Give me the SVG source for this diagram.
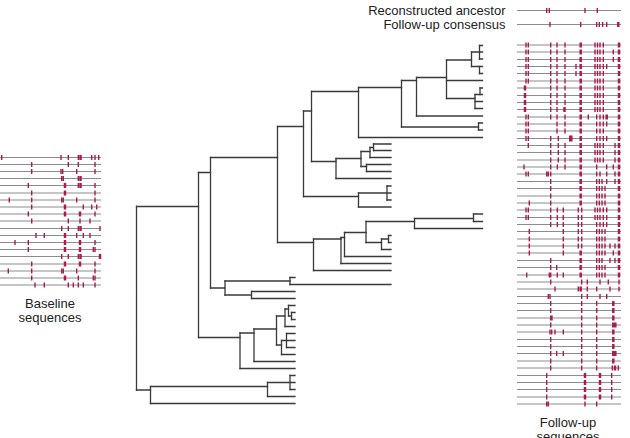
<svg xmlns="http://www.w3.org/2000/svg" width="630" height="438" viewBox="0 0 630 438">
<style>
.ln{stroke:#8c8c8c;stroke-width:1.1;fill:none}
.t{stroke:#ad1a4c;stroke-width:1.4;fill:none}
.T{stroke:#ad1a4c;stroke-width:2.5;fill:none}
.tree{stroke:#3a3a3a;stroke-width:1.3;fill:none;stroke-linecap:square}
text{font-family:"Liberation Sans",Arial,sans-serif;font-size:13px;fill:#222}
</style>
<rect width="630" height="438" fill="#fff"/>

<g id="legend">
<text x="505.5" y="14.5" text-anchor="end">Reconstructed ancestor</text>
<text x="505.5" y="28.5" text-anchor="end">Follow-up consensus</text>
<g transform="translate(0,10.5)"><path class="ln" d="M517 0H621"/><path class="t" d="M546.7 -2.5v5M549.3 -2.5v5M585 -2.5v5M597.3 -2.5v5"/></g>
<g transform="translate(0,24.5)"><path class="ln" d="M517 0H621"/><path class="t" d="M550 -2.5v5M580.7 -2.5v5M596.7 -2.5v5M599.3 -2.5v5M602.7 -2.5v5M606.7 -2.5v5"/><path class="T" d="M618.3 -2.5v5"/></g>
</g>

<g id="baseline-sequences">
<g transform="translate(0,157.5)"><path class="ln" d="M0 0H101"/><path class="t" d="M1.7 -2.5v5M61 -2.5v5M68.3 -2.5v5M78.3 -2.5v5M91.7 -2.5v5M95 -2.5v5M98.7 -2.5v5"/><path class="T" d="M80.5 -2.5v5"/></g>
<g transform="translate(0,164.5)"><path class="ln" d="M0 0H101"/><path class="t" d="M31.7 -2.5v5M68.3 -2.5v5M78.3 -2.5v5M95 -2.5v5"/></g>
<g transform="translate(0,171.5)"><path class="ln" d="M0 0H101"/><path class="t" d="M31.7 -2.5v5M61 -2.5v5M62.7 -2.5v5M76.7 -2.5v5M95 -2.5v5"/></g>
<g transform="translate(0,178.5)"><path class="ln" d="M0 0H101"/><path class="t" d="M61.7 -2.5v5M63.3 -2.5v5M78.3 -2.5v5"/><path class="T" d="M80.5 -2.5v5"/></g>
<g transform="translate(0,185.5)"><path class="ln" d="M0 0H101"/><path class="t" d="M28.3 -2.5v5M78.3 -2.5v5M95 -2.5v5"/><path class="T" d="M65 -2.5v5M80.5 -2.5v5"/></g>
<g transform="translate(0,193)"><path class="ln" d="M0 0H101"/><path class="t" d="M31.7 -2.5v5M95 -2.5v5"/><path class="T" d="M65 -2.5v5"/></g>
<g transform="translate(0,200)"><path class="ln" d="M0 0H101"/><path class="t" d="M9.3 -2.5v5M31.7 -2.5v5M61.7 -2.5v5M63.3 -2.5v5M76.7 -2.5v5M95 -2.5v5"/></g>
<g transform="translate(0,207)"><path class="ln" d="M0 0H101"/><path class="t" d="M31.7 -2.5v5M83.3 -2.5v5M91.7 -2.5v5M96.7 -2.5v5"/><path class="T" d="M65 -2.5v5"/></g>
<g transform="translate(0,214)"><path class="ln" d="M0 0H101"/><path class="t" d="M28.3 -2.5v5M95 -2.5v5"/><path class="T" d="M65 -2.5v5M80 -2.5v5"/></g>
<g transform="translate(0,221)"><path class="ln" d="M0 0H101"/><path class="t" d="M31.7 -2.5v5M68.3 -2.5v5M80 -2.5v5M90 -2.5v5"/></g>
<g transform="translate(0,228.5)"><path class="ln" d="M0 0H101"/><path class="t" d="M61.7 -2.5v5M68.3 -2.5v5M78.3 -2.5v5M100 -2.5v5"/><path class="T" d="M80.5 -2.5v5"/></g>
<g transform="translate(0,235.5)"><path class="ln" d="M0 0H101"/><path class="t" d="M36 -2.5v5M44.3 -2.5v5M76.7 -2.5v5M83.3 -2.5v5M90 -2.5v5"/><path class="T" d="M65 -2.5v5"/></g>
<g transform="translate(0,242.5)"><path class="ln" d="M0 0H101"/><path class="t" d="M15 -2.5v5M28.3 -2.5v5M95 -2.5v5"/><path class="T" d="M65 -2.5v5M80 -2.5v5"/></g>
<g transform="translate(0,249.5)"><path class="ln" d="M0 0H101"/><path class="t" d="M28.3 -2.5v5M93.3 -2.5v5M95 -2.5v5"/><path class="T" d="M65 -2.5v5M80 -2.5v5"/></g>
<g transform="translate(0,256.5)"><path class="ln" d="M0 0H101"/><path class="t" d="M61.7 -2.5v5M68.3 -2.5v5M78.3 -2.5v5"/><path class="T" d="M80.5 -2.5v5M100 -2.5v5"/></g>
<g transform="translate(0,264)"><path class="ln" d="M0 0H101"/><path class="t" d="M31.7 -2.5v5M95 -2.5v5"/><path class="T" d="M65 -2.5v5M80 -2.5v5"/></g>
<g transform="translate(0,271)"><path class="ln" d="M0 0H101"/><path class="t" d="M8.3 -2.5v5M31.7 -2.5v5M61.7 -2.5v5M63.3 -2.5v5M76.7 -2.5v5M95 -2.5v5"/></g>
<g transform="translate(0,278)"><path class="ln" d="M0 0H101"/><path class="t" d="M31.7 -2.5v5M78.3 -2.5v5M93.3 -2.5v5M95 -2.5v5"/><path class="T" d="M65 -2.5v5"/></g>
<g transform="translate(0,285)"><path class="ln" d="M0 0H101"/><path class="t" d="M35 -2.5v5M44.3 -2.5v5M68.3 -2.5v5M73.3 -2.5v5M78.3 -2.5v5M83.3 -2.5v5M95 -2.5v5"/></g>
<text x="50" y="308" text-anchor="middle">Baseline</text>
<text x="50" y="322" text-anchor="middle">sequences</text>
</g>

<g id="tree">
<path class="tree" d="M136.5 206.5V390M150.5 386.5V403.5M267.5 382.5V396.5M290 375.5V389.5M198.5 172.5V337.5M210.5 157.5V288M225 281V295M290 277.5V284.5M251.5 291.5V298.5M240 333V368.5M254 329V361.5M276.5 316V345M285 309V326.5M288.5 305.5V316M291.5 312.5V319.5M281.5 340.5V354.5M286.5 333.5V347.5M277.5 126.5V242.5M303.5 111V196.5M311.5 91.5V161.5M358.5 87.5V137.5M401.5 80.5V127M478.5 123V130M416.5 77.5V116M446.5 60V98.5M471.5 52V66.5M479.5 45.5V59M479.5 66.5V73.5M475 94.5V108.5M480 88V94.5M336 158.5V178.5M361 151.5V166.5M370 147.5V157.5M373.5 144V150.5M366.5 164.5V171.5M358.5 193V207M387 186V200M313.5 239V270.5M341 237.5V263.5M344.5 232.5V256.5M366 221.5V242.5M381.5 239V249.5M388.5 235.5V242.5M414.5 218.5V228.5M473.5 214V221.5"/>
<path class="tree" d="M136.5 206.5H198.5M136.5 390H150.5M150.5 386.5H267.5M150.5 403.5H295M267.5 382.5H290M267.5 396.5H295M290 375.5H295M290 382.5H295M290 389.5H295M198.5 172.5H210.5M198.5 337.5H240M210.5 157.5H277.5M210.5 288H225M225 281H290M225 295H251.5M290 277.5H295M290 284.5H391M251.5 291.5H295M251.5 298.5H295M240 333H254M240 368.5H295M254 329H276.5M254 361.5H295M276.5 316H285M276.5 345H281.5M285 309H288.5M285 326.5H295M288.5 305.5H295M288.5 316H291.5M291.5 312.5H295M291.5 319.5H295M281.5 340.5H286.5M281.5 354.5H295M286.5 333.5H295M286.5 340.5H295M286.5 347.5H295"/>
<path class="tree" d="M277.5 126.5H303.5M277.5 242.5H313.5M303.5 111H311.5M303.5 196.5H358.5M311.5 91.5H358.5M311.5 161.5H336M358.5 87.5H401.5M358.5 137.5H482.5M401.5 80.5H416.5M401.5 127H478.5M478.5 123H482.5M478.5 130H482.5M416.5 77.5H446.5M416.5 116H482.5M446.5 60H471.5M446.5 80.5H482.5M446.5 98.5H475M471.5 52H479.5M471.5 66.5H482.5M479.5 45.5H482.5M479.5 52H482.5M479.5 59H482.5M479.5 73.5H482.5M475 94.5H480M475 101.5H482.5M475 108.5H482.5M480 88H482.5M480 94.5H482.5"/>
<path class="tree" d="M336 158.5H361M336 178.5H391M361 151.5H370M361 166.5H366.5M370 147.5H373.5M370 157.5H391M373.5 144H391M373.5 150.5H391M366.5 164.5H391M366.5 171.5H391M358.5 193H387M358.5 207H391M387 186H391M387 193H391M387 200H391M313.5 239H341M313.5 270.5H391M341 237.5H344.5M341 263.5H391M344.5 232.5H366M344.5 256.5H391M366 221.5H414.5M366 242.5H381.5M381.5 239H388.5M381.5 249.5H391M388.5 235.5H391M388.5 242.5H391M414.5 218.5H473.5M414.5 228.5H482.5M473.5 214H482.5M473.5 221.5H482.5"/>
</g>

<g id="followup-sequences">
<g transform="translate(0,45)"><path class="ln" d="M517 0H621"/><path class="t" d="M526 -2.5v5M528.3 -2.5v5M550.7 -2.5v5M557 -2.5v5M565 -2.5v5M595 -2.5v5M597.5 -2.5v5M600 -2.5v5M603.3 -2.5v5"/><path class="T" d="M580.7 -2.5v5M619 -2.5v5"/></g>
<g transform="translate(0,52)"><path class="ln" d="M517 0H621"/><path class="t" d="M526 -2.5v5M528.3 -2.5v5M550.7 -2.5v5M557 -2.5v5M565 -2.5v5M595 -2.5v5M597.5 -2.5v5M600 -2.5v5M603.3 -2.5v5M613.3 -2.5v5"/><path class="T" d="M580.7 -2.5v5M619 -2.5v5"/></g>
<g transform="translate(0,59.5)"><path class="ln" d="M517 0H621"/><path class="t" d="M526 -2.5v5M528.3 -2.5v5M550.7 -2.5v5M557 -2.5v5M565 -2.5v5M595 -2.5v5M597.5 -2.5v5M600 -2.5v5M603.3 -2.5v5M613.3 -2.5v5"/><path class="T" d="M580.7 -2.5v5M619 -2.5v5"/></g>
<g transform="translate(0,66.5)"><path class="ln" d="M517 0H621"/><path class="t" d="M526 -2.5v5M528.3 -2.5v5M550.7 -2.5v5M557 -2.5v5M565 -2.5v5M576 -2.5v5M595 -2.5v5M597.5 -2.5v5M600 -2.5v5M603.3 -2.5v5M606.7 -2.5v5"/><path class="T" d="M580.7 -2.5v5M619 -2.5v5"/></g>
<g transform="translate(0,73.5)"><path class="ln" d="M517 0H621"/><path class="t" d="M526 -2.5v5M528.3 -2.5v5M550.7 -2.5v5M557 -2.5v5M565 -2.5v5M576 -2.5v5M595 -2.5v5M597.5 -2.5v5M600 -2.5v5M603.3 -2.5v5"/><path class="T" d="M580.7 -2.5v5M619 -2.5v5"/></g>
<g transform="translate(0,81)"><path class="ln" d="M517 0H621"/><path class="t" d="M526 -2.5v5M528.3 -2.5v5M550.7 -2.5v5M557 -2.5v5M565 -2.5v5M595 -2.5v5M597.5 -2.5v5M600 -2.5v5M603.3 -2.5v5"/><path class="T" d="M580.7 -2.5v5M619 -2.5v5"/></g>
<g transform="translate(0,88)"><path class="ln" d="M517 0H621"/><path class="t" d="M550.7 -2.5v5M557 -2.5v5M565 -2.5v5M595 -2.5v5M597.5 -2.5v5M600 -2.5v5M603.3 -2.5v5"/><path class="T" d="M525 -2.5v5M580.7 -2.5v5M619 -2.5v5"/></g>
<g transform="translate(0,95.5)"><path class="ln" d="M517 0H621"/><path class="t" d="M550.7 -2.5v5M557 -2.5v5M565 -2.5v5M595 -2.5v5M597.5 -2.5v5M600 -2.5v5M603.3 -2.5v5"/><path class="T" d="M525 -2.5v5M580.7 -2.5v5M619 -2.5v5"/></g>
<g transform="translate(0,102.5)"><path class="ln" d="M517 0H621"/><path class="t" d="M550.7 -2.5v5M557 -2.5v5M565 -2.5v5M595 -2.5v5M597.5 -2.5v5M600 -2.5v5M603.3 -2.5v5"/><path class="T" d="M525 -2.5v5M580.7 -2.5v5M619 -2.5v5"/></g>
<g transform="translate(0,109.5)"><path class="ln" d="M517 0H621"/><path class="t" d="M550.7 -2.5v5M557 -2.5v5M595 -2.5v5M597.5 -2.5v5M600 -2.5v5M603.3 -2.5v5"/><path class="T" d="M525 -2.5v5M564.5 -2.5v5M580.7 -2.5v5M619 -2.5v5"/></g>
<g transform="translate(0,117)"><path class="ln" d="M517 0H621"/><path class="t" d="M526 -2.5v5M528.3 -2.5v5M550.7 -2.5v5M557 -2.5v5M565 -2.5v5M588.3 -2.5v5M596.7 -2.5v5M600 -2.5v5M603.3 -2.5v5"/><path class="T" d="M580.7 -2.5v5M606.7 -2.5v5M619 -2.5v5"/></g>
<g transform="translate(0,124)"><path class="ln" d="M517 0H621"/><path class="t" d="M526 -2.5v5M528.3 -2.5v5M557 -2.5v5M565 -2.5v5M596.7 -2.5v5M600 -2.5v5M603.3 -2.5v5M606.7 -2.5v5"/><path class="T" d="M580.7 -2.5v5M619 -2.5v5"/></g>
<g transform="translate(0,131)"><path class="ln" d="M517 0H621"/><path class="t" d="M526 -2.5v5M528.3 -2.5v5M557 -2.5v5M565 -2.5v5M596.7 -2.5v5M600 -2.5v5M603.3 -2.5v5"/><path class="T" d="M580.7 -2.5v5M619 -2.5v5"/></g>
<g transform="translate(0,138.5)"><path class="ln" d="M517 0H621"/><path class="t" d="M526 -2.5v5M528.3 -2.5v5M550.7 -2.5v5M558.3 -2.5v5M596.7 -2.5v5M600 -2.5v5M603.3 -2.5v5M606.7 -2.5v5"/><path class="T" d="M580.7 -2.5v5M619 -2.5v5"/><rect x="569" y="-3" width="3.6" height="6" fill="#ad1a4c"/></g>
<g transform="translate(0,145.5)"><path class="ln" d="M517 0H621"/><path class="t" d="M528.3 -2.5v5M550.7 -2.5v5M558.3 -2.5v5M565 -2.5v5M595 -2.5v5M597.5 -2.5v5M600 -2.5v5M603.3 -2.5v5M615 -2.5v5"/><path class="T" d="M580.7 -2.5v5M619 -2.5v5"/></g>
<g transform="translate(0,152.5)"><path class="ln" d="M517 0H621"/><path class="t" d="M550.7 -2.5v5M558.3 -2.5v5M565 -2.5v5M595 -2.5v5M597.5 -2.5v5M600 -2.5v5M603.3 -2.5v5M615 -2.5v5"/><path class="T" d="M580.7 -2.5v5M619 -2.5v5"/></g>
<g transform="translate(0,160)"><path class="ln" d="M517 0H621"/><path class="t" d="M550.7 -2.5v5M558.3 -2.5v5M565 -2.5v5M595 -2.5v5M597.5 -2.5v5M600 -2.5v5M603.3 -2.5v5M615 -2.5v5"/><path class="T" d="M580.7 -2.5v5M619 -2.5v5"/></g>
<g transform="translate(0,167)"><path class="ln" d="M517 0H621"/><path class="t" d="M524 -2.5v5M550.7 -2.5v5M557.3 -2.5v5M565 -2.5v5M596.7 -2.5v5M606.7 -2.5v5M613.3 -2.5v5"/><path class="T" d="M580.7 -2.5v5M619 -2.5v5"/></g>
<g transform="translate(0,174)"><path class="ln" d="M517 0H621"/><path class="t" d="M526 -2.5v5M528.3 -2.5v5M546.7 -2.5v5M548.3 -2.5v5M550.7 -2.5v5M596.7 -2.5v5M600 -2.5v5M606.7 -2.5v5M615 -2.5v5"/><path class="T" d="M580.7 -2.5v5M619 -2.5v5"/></g>
<g transform="translate(0,181.5)"><path class="ln" d="M517 0H621"/><path class="t" d="M550.7 -2.5v5M596.7 -2.5v5M599.3 -2.5v5M602 -2.5v5M606.7 -2.5v5M615 -2.5v5"/><path class="T" d="M580.7 -2.5v5M619 -2.5v5"/></g>
<g transform="translate(0,188.5)"><path class="ln" d="M517 0H621"/><path class="t" d="M550.7 -2.5v5M596.7 -2.5v5M599.3 -2.5v5M602 -2.5v5M605 -2.5v5"/><path class="T" d="M580.7 -2.5v5M619 -2.5v5"/></g>
<g transform="translate(0,196)"><path class="ln" d="M517 0H621"/><path class="t" d="M550.7 -2.5v5M596.7 -2.5v5M599.3 -2.5v5M602 -2.5v5M605 -2.5v5"/><path class="T" d="M580.7 -2.5v5M619 -2.5v5"/></g>
<g transform="translate(0,203)"><path class="ln" d="M517 0H621"/><path class="t" d="M529.3 -2.5v5M550.7 -2.5v5M596.7 -2.5v5M599.3 -2.5v5M602 -2.5v5M605 -2.5v5"/><path class="T" d="M580.7 -2.5v5M619 -2.5v5"/></g>
<g transform="translate(0,210)"><path class="ln" d="M517 0H621"/><path class="t" d="M526 -2.5v5M528.3 -2.5v5M550.7 -2.5v5M557.3 -2.5v5M563.3 -2.5v5M578.3 -2.5v5M581.7 -2.5v5M595 -2.5v5M597.5 -2.5v5M600 -2.5v5M603.3 -2.5v5M606.7 -2.5v5"/><path class="T" d="M619 -2.5v5"/></g>
<g transform="translate(0,217.5)"><path class="ln" d="M517 0H621"/><path class="t" d="M526 -2.5v5M528.3 -2.5v5M550.7 -2.5v5M557.3 -2.5v5M563.3 -2.5v5M578.3 -2.5v5M581.7 -2.5v5M595 -2.5v5M597.5 -2.5v5M600 -2.5v5M603.3 -2.5v5M606.7 -2.5v5"/><path class="T" d="M619 -2.5v5"/></g>
<g transform="translate(0,224.5)"><path class="ln" d="M517 0H621"/><path class="t" d="M550.7 -2.5v5M557.3 -2.5v5M563.3 -2.5v5M578.3 -2.5v5M581.7 -2.5v5M596.7 -2.5v5M600 -2.5v5M603.3 -2.5v5M606.7 -2.5v5"/><path class="T" d="M619 -2.5v5"/></g>
<g transform="translate(0,231.5)"><path class="ln" d="M517 0H621"/><path class="t" d="M529.3 -2.5v5M563.3 -2.5v5M578.3 -2.5v5M581.7 -2.5v5M596.7 -2.5v5M599.3 -2.5v5M602 -2.5v5M605 -2.5v5"/><path class="T" d="M619 -2.5v5"/></g>
<g transform="translate(0,239)"><path class="ln" d="M517 0H621"/><path class="t" d="M529.3 -2.5v5M563.3 -2.5v5M578.3 -2.5v5M581.7 -2.5v5M596.7 -2.5v5M599.3 -2.5v5M602 -2.5v5M605 -2.5v5"/><path class="T" d="M619 -2.5v5"/></g>
<g transform="translate(0,246)"><path class="ln" d="M517 0H621"/><path class="t" d="M529.3 -2.5v5M563.3 -2.5v5M578.3 -2.5v5M581.7 -2.5v5M596.7 -2.5v5M599.3 -2.5v5M602 -2.5v5M605 -2.5v5M610 -2.5v5M615 -2.5v5"/><path class="T" d="M619 -2.5v5"/></g>
<g transform="translate(0,253)"><path class="ln" d="M517 0H621"/><path class="t" d="M529.3 -2.5v5M563.3 -2.5v5M596.7 -2.5v5M599.3 -2.5v5M602 -2.5v5M605 -2.5v5M613.3 -2.5v5"/><path class="T" d="M580.7 -2.5v5M619 -2.5v5"/></g>
<g transform="translate(0,260.5)"><path class="ln" d="M517 0H621"/><path class="t" d="M550.7 -2.5v5M596.7 -2.5v5M599.3 -2.5v5M602 -2.5v5M610 -2.5v5M615 -2.5v5"/><path class="T" d="M580.7 -2.5v5M619 -2.5v5"/></g>
<g transform="translate(0,267.5)"><path class="ln" d="M517 0H621"/><path class="t" d="M550.7 -2.5v5M556.7 -2.5v5M596.7 -2.5v5M599.3 -2.5v5M602 -2.5v5M605 -2.5v5"/><path class="T" d="M580.7 -2.5v5M619 -2.5v5"/></g>
<g transform="translate(0,275)"><path class="ln" d="M517 0H621"/><path class="t" d="M526.7 -2.5v5M549.3 -2.5v5M550.7 -2.5v5M557.3 -2.5v5M563.3 -2.5v5M596.7 -2.5v5M599.3 -2.5v5M602 -2.5v5M605 -2.5v5"/><path class="T" d="M580.7 -2.5v5M619 -2.5v5"/></g>
<g transform="translate(0,282)"><path class="ln" d="M517 0H621"/><path class="t" d="M550.7 -2.5v5M581.7 -2.5v5M587.3 -2.5v5M600 -2.5v5M608.3 -2.5v5M619 -2.5v5"/></g>
<g transform="translate(0,289)"><path class="ln" d="M517 0H621"/><path class="t" d="M555 -2.5v5M578.3 -2.5v5M587.3 -2.5v5M596.7 -2.5v5M610 -2.5v5M619 -2.5v5"/><path class="T" d="M580.7 -2.5v5"/></g>
<g transform="translate(0,296.5)"><path class="ln" d="M517 0H621"/><path class="t" d="M548.3 -2.5v5M550 -2.5v5M581.7 -2.5v5M587.3 -2.5v5M600 -2.5v5M606.7 -2.5v5"/></g>
<g transform="translate(0,303.5)"><path class="ln" d="M517 0H621"/><path class="t" d="M550.7 -2.5v5M581.7 -2.5v5M596.7 -2.5v5"/><path class="T" d="M613.3 -2.5v5"/></g>
<g transform="translate(0,310.5)"><path class="ln" d="M517 0H621"/><path class="t" d="M550.7 -2.5v5M581.7 -2.5v5M596.7 -2.5v5"/><path class="T" d="M613.3 -2.5v5"/></g>
<g transform="translate(0,318)"><path class="ln" d="M517 0H621"/><path class="t" d="M550.7 -2.5v5M552 -2.5v5M581.7 -2.5v5M596.7 -2.5v5"/><path class="T" d="M613.3 -2.5v5"/></g>
<g transform="translate(0,325)"><path class="ln" d="M517 0H621"/><path class="t" d="M550.7 -2.5v5M581.7 -2.5v5M596.7 -2.5v5"/><path class="T" d="M613.3 -2.5v5M615.3 -2.5v5"/></g>
<g transform="translate(0,332)"><path class="ln" d="M517 0H621"/><path class="t" d="M550 -2.5v5M551.7 -2.5v5M555 -2.5v5M563.3 -2.5v5M581.7 -2.5v5M596.7 -2.5v5"/><path class="T" d="M613.3 -2.5v5"/></g>
<g transform="translate(0,339.5)"><path class="ln" d="M517 0H621"/><path class="t" d="M550.7 -2.5v5M581.7 -2.5v5M596.7 -2.5v5"/><path class="T" d="M613.3 -2.5v5"/></g>
<g transform="translate(0,346.5)"><path class="ln" d="M517 0H621"/><path class="t" d="M550.7 -2.5v5M581.7 -2.5v5M596.7 -2.5v5"/><path class="T" d="M613.3 -2.5v5"/></g>
<g transform="translate(0,353.5)"><path class="ln" d="M517 0H621"/><path class="t" d="M550.7 -2.5v5M556.7 -2.5v5M563.3 -2.5v5M581.7 -2.5v5M596.7 -2.5v5"/><path class="T" d="M613.3 -2.5v5M615.3 -2.5v5"/></g>
<g transform="translate(0,361)"><path class="ln" d="M517 0H621"/><path class="t" d="M550.7 -2.5v5M581.7 -2.5v5M596.7 -2.5v5"/><path class="T" d="M613.3 -2.5v5"/></g>
<g transform="translate(0,368)"><path class="ln" d="M517 0H621"/><path class="t" d="M550.7 -2.5v5M581.7 -2.5v5M596.7 -2.5v5M612.3 -2.5v5M618.3 -2.5v5"/><path class="T" d="M615 -2.5v5"/></g>
<g transform="translate(0,375.5)"><path class="ln" d="M517 0H621"/><path class="t" d="M546.7 -2.5v5M611.7 -2.5v5"/><path class="T" d="M585 -2.5v5M600 -2.5v5"/></g>
<g transform="translate(0,382.5)"><path class="ln" d="M517 0H621"/><path class="t" d="M546.7 -2.5v5M611.7 -2.5v5"/><path class="T" d="M585 -2.5v5M600 -2.5v5"/></g>
<g transform="translate(0,389.5)"><path class="ln" d="M517 0H621"/><path class="t" d="M546.7 -2.5v5M611.7 -2.5v5"/><path class="T" d="M585 -2.5v5M600 -2.5v5"/></g>
<g transform="translate(0,397)"><path class="ln" d="M517 0H621"/><path class="t" d="M546.7 -2.5v5M611.7 -2.5v5"/><path class="T" d="M585 -2.5v5M600 -2.5v5"/></g>
<g transform="translate(0,404)"><path class="ln" d="M517 0H621"/><path class="t" d="M546.7 -2.5v5M548.3 -2.5v5M585 -2.5v5M596.7 -2.5v5"/></g>
<text x="568" y="427" text-anchor="middle">Follow-up</text>
<text x="568" y="441" text-anchor="middle">sequences</text>
</g>
</svg>
